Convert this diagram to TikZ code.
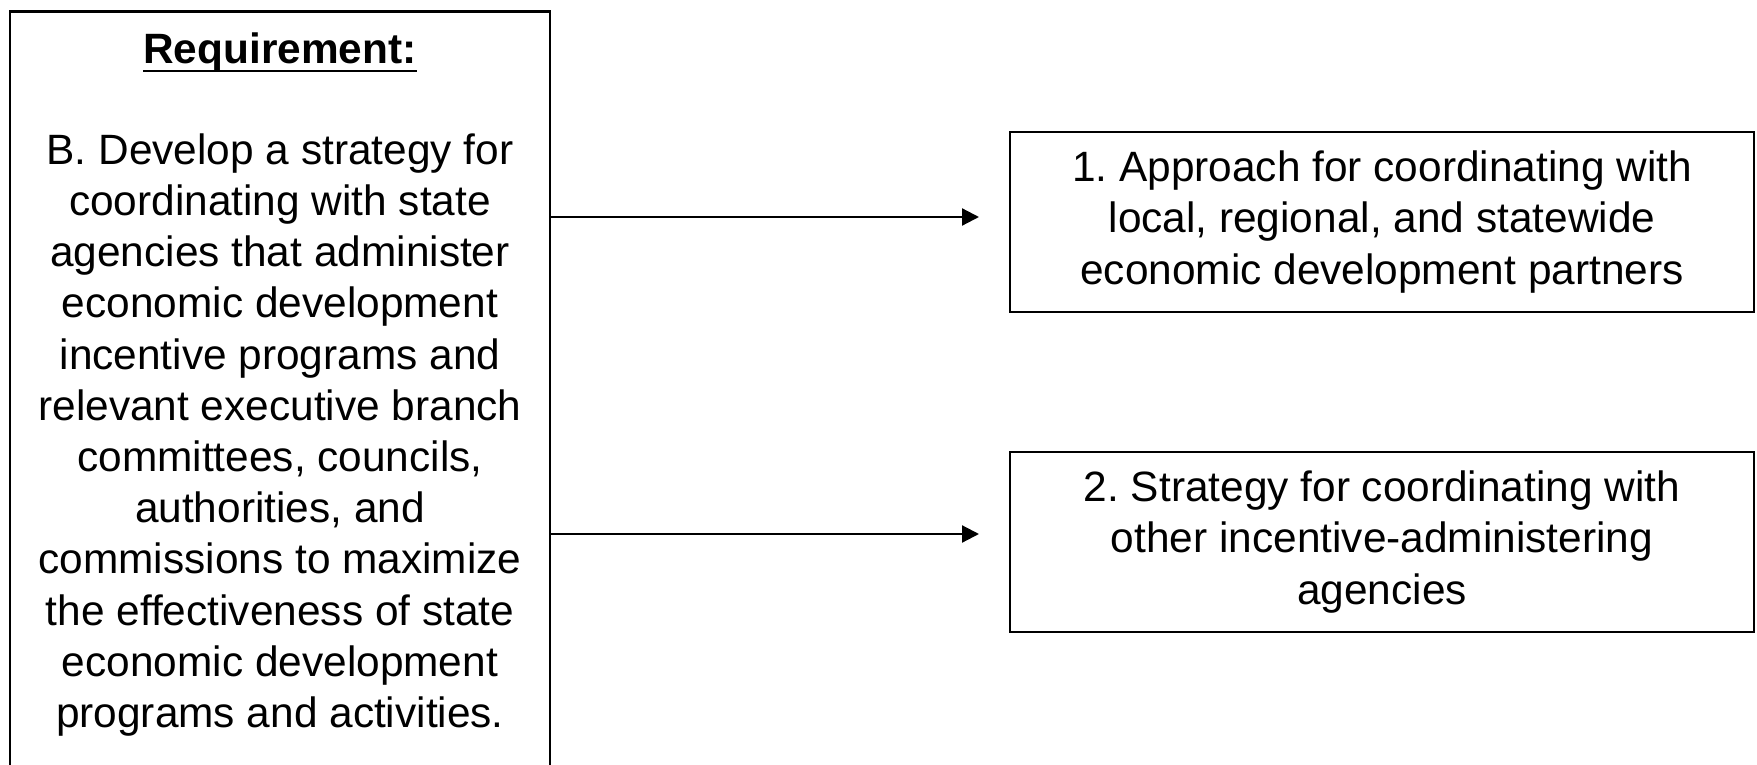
\documentclass[tikz,border=0pt]{standalone}
\usepackage{fontspec}
\setmainfont{Liberation Sans}
\usetikzlibrary{arrows.meta}
\newcommand{\ulhead}[1]{\setbox0\hbox{#1}\rlap{\rule[-4.6pt]{\wd0}{1.3pt}}\box0}
\tikzstyle{frame}=[draw, line width=1.3pt, inner sep=0]
\tikzstyle{words}=[font=\fontsize{21.2}{25.6}\selectfont\frenchspacing, align=center, inner sep=0]
\tikzstyle{link}=[line width=1.1pt, -{Triangle[length=8.5pt, width=8.5pt]}]

\begin{document}
\begin{tikzpicture}[x=0.5pt, y=-0.5pt]

\useasboundingbox (0,0) rectangle (1757,765);

\node [frame, minimum width=270pt, minimum height=400pt, anchor=north] (req) at (280,10) {};
\node [words, anchor=north] (reqtext) at (280,32) {\ulhead{\textbf{Requirement:}}\\[25pt]
  B. Develop a strategy for\\ coordinating with state\\ agencies that administer\\
  economic development\\ incentive programs and\\ relevant executive branch\\
  committees, councils,\\ authorities, and\\ commissions to maximize\\
  the effectiveness of state\\ economic development\\ programs and activities.};

\node [frame, words, minimum width=372pt, minimum height=90pt] (goal1) at (1382,222)
  {1. Approach for coordinating with\\ local, regional, and statewide\\ economic development partners};
\node [frame, words, minimum width=372pt, minimum height=90pt] (goal2) at (1382,542)
  {2. Strategy for coordinating with\\ other incentive-administering\\ agencies};

\coordinate (tip1) at (979,217);
\coordinate (tip2) at (979,534);

\draw [link] (req.east |- tip1) -- (tip1);
\draw [link] (req.east |- tip2) -- (tip2);

\end{tikzpicture}
\end{document}
